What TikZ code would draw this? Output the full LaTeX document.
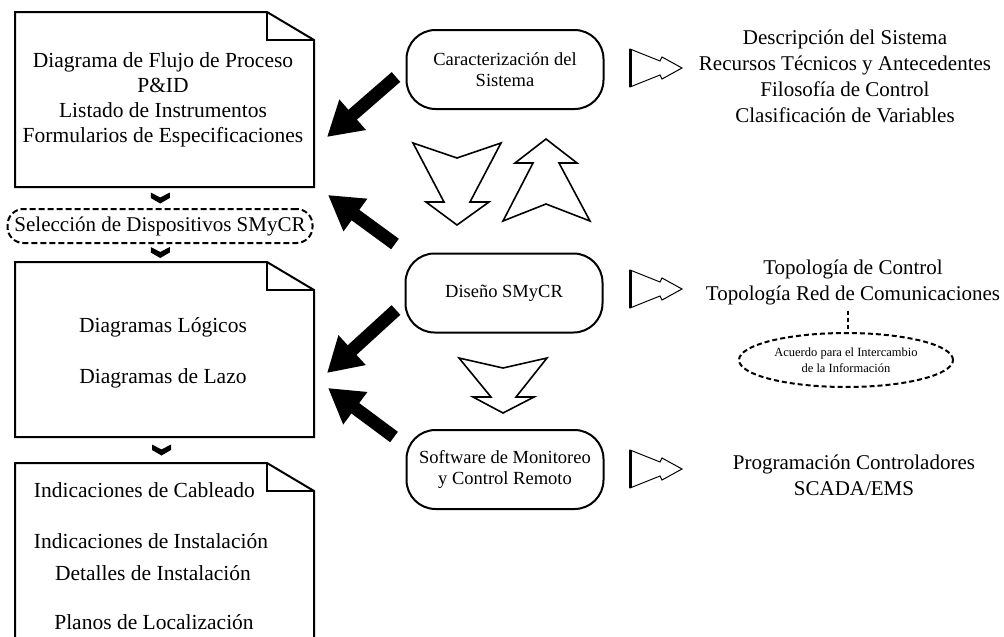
\documentclass[tikz,border=0pt]{standalone}
\usepackage{fontspec}
\setmainfont{Liberation Serif}
\usetikzlibrary{arrows.meta,calc,shapes.geometric}

% folded-corner document outline around an empty node
\newcommand\foldoutline[1]{%
  \draw[docline] (#1.south west) -- (#1.north west) -- ([xshift=-47pt]#1.north east)
    -- ([yshift=-28pt]#1.north east) -- (#1.south east) -- cycle;
  \draw[docline] ([xshift=-47pt]#1.north east) -- ([xshift=-47pt,yshift=-28pt]#1.north east)
    -- ([yshift=-28pt]#1.north east);}
% same outline, open at the bottom
\newcommand\foldoutlineopen[1]{%
  \draw[docline] (#1.south west) -- (#1.north west) -- ([xshift=-47pt]#1.north east)
    -- ([yshift=-28pt]#1.north east) -- (#1.south east);
  \draw[docline] ([xshift=-47pt]#1.north east) -- ([xshift=-47pt,yshift=-28pt]#1.north east)
    -- ([yshift=-28pt]#1.north east);}

\begin{document}
\begin{tikzpicture}[x=1pt,y=-1pt,
  every node/.style={inner sep=0pt, outer sep=0pt},
  docbox/.style={minimum width=299pt, minimum height=175pt},
  docline/.style={line width=2pt, line join=miter},
  doctext/.style={align=center, font=\fontsize{21.5}{25}\selectfont},
  stage/.style={draw, line width=2pt, rounded corners=29pt, minimum width=197pt,
    minimum height=79pt, align=center, font=\fontsize{18.5}{21}\selectfont},
  outtext/.style={align=center, font=\fontsize{21}{26}\selectfont},
  blk/.style={line width=13pt, -{Triangle[length=34pt,width=38pt]}},
  hollow/.style={draw, fill=white, line width=1.6pt, line join=miter},
  chev/.pic={\fill (-9.5,-5.5) -- (0,-0.5) -- (9.5,-5.5) -- (9.5,0) -- (0,5.5) -- (-9.5,0) -- cycle;},
  pointer/.pic={\draw[line width=1pt, line join=miter] (0,-19) -- (30,-7) -- (32,-11) -- (52,0)
      -- (32,11) -- (30,7) -- (0,19) -- cycle;
    \draw[line width=2.6pt] (0.5,-19) -- (0.5,19);}
]
\useasboundingbox (0,0) rectangle (1004,637);

% ---- left column: documents ----
\node[docbox] (d1) at (164.5,99.5) {};
\foldoutline{d1}
\node[doctext] (t1) at (163,99.5) {Diagrama de Flujo de Proceso\\P\&ID\\Listado de Instrumentos\\Formularios de Especificaciones};

\node[draw, line width=2pt, dash pattern=on 6pt off 3pt, rounded corners=16pt,
  minimum width=305pt, minimum height=34pt, font=\fontsize{21}{25}\selectfont] (sel) at (160,226)
  {Selección de Dispositivos SMyCR};

\node[docbox] (d2) at (164.5,349.5) {};
\foldoutline{d2}
\node[doctext] (t2) at (163,352.5) {Diagramas Lógicos\\[26pt]Diagramas de Lazo};

\node[docbox, minimum height=174pt] (d3) at (164.5,550) {};
\foldoutlineopen{d3}
\node[doctext, anchor=west] (t3a) at (34,490) {Indicaciones de Cableado};
\node[doctext, anchor=west] (t3b) at (34,541) {Indicaciones de Instalación};
\node[doctext] (t3c) at (153,573) {Detalles de Instalación};
\node[doctext] (t3d) at (154,622) {Planos de Localización};

% small chevrons between documents
\pic at ($(d1.south)!0.5!(sel.north)+(-2,0)$) {chev};
\pic at ($(sel.south)!0.5!(d2.north)+(-2,0)$) {chev};
\pic at ($(d2.south)!0.5!(d3.north)+(-3,0)$) {chev};

% ---- centre column: stages ----
\node[stage] (cA) at (505,69.5) {Caracterización del\\Sistema};
\node[stage] (cB) at (504,293) {Diseño SMyCR};
\node[stage] (cC) at (505,469.5) {Software de Monitoreo\\y Control Remoto};

% hollow arrows between stages
\path[hollow] (413,143) -- (457,158) -- (501,143) -- (470,202) -- (489,202) -- (457,225)
  -- (426,202) -- (444,202) -- cycle;
\path[hollow] (546,139) -- (577,163) -- (559,163) -- (590,221) -- (546,204) -- (503,221)
  -- (533,163) -- (515,163) -- cycle;
\path[hollow] (459,358) -- (503,368) -- (547,358) -- (516,397) -- (534,397) -- (503,413)
  -- (473,397) -- (491,397) -- cycle;

% black arrows from stages to documents
\draw[blk] ([shift={(-10.5,7.5)}]cA.west) -- ([shift={(13,37.5)}]d1.east);
\draw[blk] ([shift={(-10.5,-9.5)}]cB.north west) -- ([shift={(14,8)}]d1.south east);
\draw[blk] ([shift={(-9.5,17)}]cB.west) -- ([shift={(13,23.5)}]d2.east);
\draw[blk] ([shift={(-12.5,7)}]cC.north west) -- ([shift={(14,38.5)}]d2.east);

% ---- right column: outputs ----
\pic at ($(cA.east)+(26.5,-1.5)$) {pointer};
\pic at ($(cB.east)+(27.5,-4)$) {pointer};
\pic at ($(cC.east)+(26.5,-0.5)$) {pointer};

\node[outtext] (r1) at (845,76) {Descripción del Sistema\\Recursos Técnicos y Antecedentes\\Filosofía de Control\\Clasificación de Variables};
\node[outtext] (r2) at (853,282) {Topología de Control\\Topología Red de Comunicaciones};
\node[outtext] (r3) at (854,475) {Programación Controladores\\SCADA/EMS};

\node[ellipse, draw, line width=2pt, dash pattern=on 5pt off 3pt, minimum width=214pt,
  minimum height=54pt, align=center, font=\fontsize{12.5}{16}\selectfont] (acu) at (846,360)
  {Acuerdo para el Intercambio\\de la Información};
\draw[line width=2.5pt, dash pattern=on 4pt off 3pt] ($(acu.north |- r2.south)+(2,6)$) -- ($(acu.north)+(2,-3)$);
\end{tikzpicture}
\end{document}
